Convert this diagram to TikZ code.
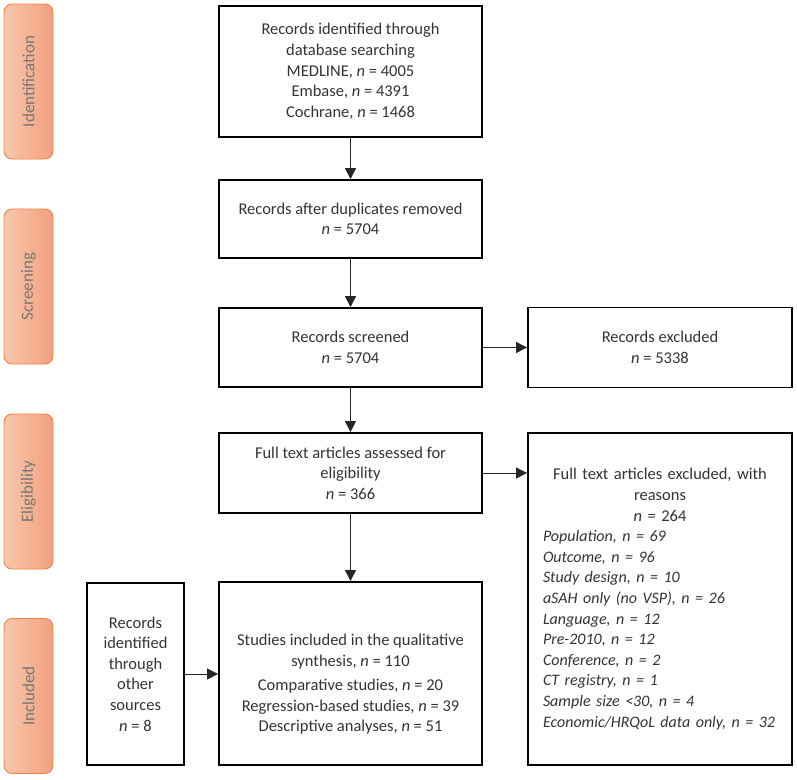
\documentclass[tikz,border=0pt]{standalone}
\usepackage{fontspec}
\setmainfont{Carlito}
\usetikzlibrary{arrows.meta}
\definecolor{tabL}{HTML}{F8C7AE}
\definecolor{tabR}{HTML}{F3A07D}
\definecolor{tabB}{HTML}{EE8244}
\definecolor{tabT}{HTML}{777777}
\definecolor{txt}{HTML}{333333}
\begin{document}
\begin{tikzpicture}[x=1pt,y=-1pt,
  boxbase/.style={draw=black, line width=1.8pt, inner sep=0pt, text=txt,
    font=\fontsize{16.5}{20.6}\selectfont},
  box/.style={boxbase, align=center},
  boxtext/.style={inner sep=0pt, text=txt, align=center,
    font=\fontsize{16.5}{20.6}\selectfont},
  tab/.style={draw=tabB, line width=0.9pt, rounded corners=8pt,
    left color=tabL, right color=tabR, inner sep=0pt,
    minimum width=49pt, minimum height=155pt},
  tabtext/.style={rotate=90, text=tabT, inner sep=0pt,
    font=\fontsize{17}{20}\selectfont},
  arr/.style={-{Triangle[length=11pt,width=11pt]}, line width=0.9pt, draw=black!85}]
\useasboundingbox (0,0) rectangle (797,779);

% phase tabs
\node[tab] (t1) at (28.5,81.5) {};
\node[tabtext] at (t1.center) {Identification};
\node[tab] (t2) at (28.5,286.5) {};
\node[tabtext] at (t2.center) {Screening};
\node[tab] (t3) at (28.5,491.5) {};
\node[tabtext] at (t3.center) {Eligibility};
\node[tab] (t4) at (28.5,696) {};
\node[tabtext] at (t4.center) {Included};

% main boxes
\node[box, minimum width=263pt, minimum height=131pt] (b1) at (350.5,71.5)
  {Records identified through\\database searching\\MEDLINE, \textit{n} = 4005\\Embase, \textit{n} = 4391\\Cochrane, \textit{n} = 1468};
\node[box, minimum width=263pt, minimum height=78pt] (b2) at (350.5,219)
  {Records after duplicates removed\\\textit{n} = 5704};
\node[box, minimum width=263pt, minimum height=79pt] (b3) at (350.5,347.5)
  {Records screened\\\textit{n} = 5704};
\node[box, minimum width=264pt, minimum height=80pt] (e1) at (660,347.5)
  {Records excluded\\\textit{n} = 5338};
\node[box, minimum width=263pt, minimum height=80pt] (b4) at (350.5,473)
  {Full text articles assessed for\\eligibility\\\textit{n} = 366};
\node[boxbase, minimum width=264pt, minimum height=332pt, text width=234pt] (e2) at (660,599)
  {{\centering Full text articles excluded, with\\reasons\\\textit{n} = 264\par}%
   {\raggedright\fontsize{16}{20.6}\selectfont\itshape Population, n = 69\\Outcome, n = 96\\Study design, n = 10\\aSAH only (no VSP), n = 26\\Language, n = 12\\Pre-2010, n = 12\\Conference, n = 2\\CT registry, n = 1\\Sample size <30, n = 4\\\mbox{Economic/HRQoL data only, n = 32}\par}};
\node[box, minimum width=263pt, minimum height=183pt] (b5) at (350.5,673.5) {};
\node[boxtext, yshift=-11pt] (b5t) at (b5.center)
  {Studies included in the qualitative\\synthesis, \textit{n} = 110\\[3.5pt]Comparative studies, \textit{n} = 20\\Regression-based studies, \textit{n} = 39\\Descriptive analyses, \textit{n} = 51};
\node[box, minimum width=97pt, minimum height=182pt] (o) at (135.5,674)
  {Records\\identified\\through\\other\\sources\\\textit{n} = 8};

% connectors
\draw[arr] (b1) -- (b2);
\draw[arr] (b2) -- (b3);
\draw[arr] (b3) -- (b4);
\draw[arr] (b4) -- (b5);
\draw[arr] (b3.east) -- (b3.east -| e1.west);
\draw[arr] (b4.east) -- (b4.east -| e2.west);
\draw[arr] (o.east) -- (o.east -| b5.west);
\end{tikzpicture}
\end{document}
